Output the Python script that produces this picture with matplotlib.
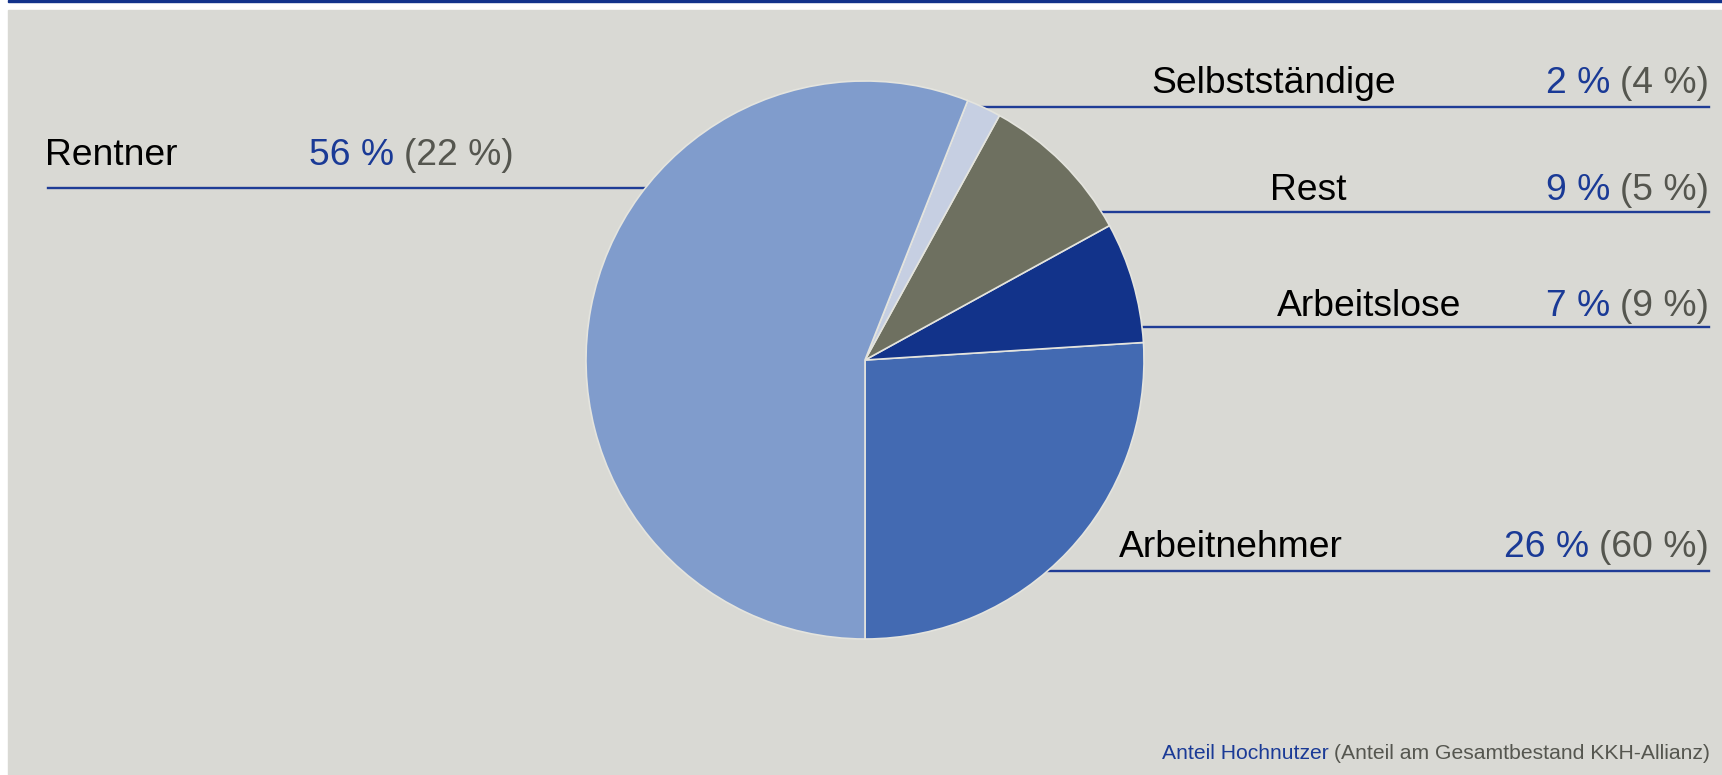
import matplotlib.pyplot as plt
from matplotlib.patches import Rectangle

# ========================
# DATA
# ========================
groups = ["Arbeitnehmer", "Arbeitslose", "Rest", "Selbstständige", "Rentner"]
share_high_users = [26, 7, 9, 2, 56]      # Anteil Hochnutzer
share_total = [60, 9, 5, 4, 22]           # Anteil am Gesamtbestand

# ========================
# STYLE
# ========================
BG_GRAY = "#D9D9D4"
DARK_BLUE = "#12328A"
LINE_BLUE = "#1F3C96"
TEXT_BLUE = "#1A3A96"
TEXT_GRAY = "#55564F"
slice_colors = ["#436AB2", "#12338A", "#6E7060", "#C6CFE2", "#809CCC"]

plt.rcParams['font.family'] = ['Liberation Sans', 'DejaVu Sans']

W, H = 1722, 775
fig = plt.figure(figsize=(W / 100, H / 100), dpi=100)
ax = fig.add_axes([0, 0, 1, 1])

# panel + top stripe (pixel coordinates, y up)
ax.add_patch(Rectangle((8, 0), W - 8, H - 10, color=BG_GRAY, zorder=0))
ax.add_patch(Rectangle((8, H - 2), W - 8, 2, color=DARK_BLUE, zorder=0))

# ========================
# PIE
# ========================
ax.pie(share_high_users, colors=slice_colors, startangle=-90,
       counterclock=True, center=(865, H - 360), radius=279,
       wedgeprops=dict(edgecolor="#E4E4DE", linewidth=1.2, zorder=3))

ax.set_xlim(0, W)
ax.set_ylim(0, H)
ax.set_aspect('equal')
ax.axis('off')

# ========================
# LABELS
# ========================
LABEL_SIZE = 26.8
RIGHT_EDGE = 1709

# name x, baseline y (from top), underline y, underline start x
right_labels = {
    "Selbstständige": (1151, 93, 107, 963),
    "Rest": (1270, 200, 212, 1100),
    "Arbeitslose": (1277, 316, 327, 1135),
    "Arbeitnehmer": (1119, 557, 571, 1040),
}

for name, (x, base, uy, x0) in right_labels.items():
    i = groups.index(name)
    yb = H - base
    ax.text(x, yb, name, fontsize=LABEL_SIZE, color="black", va='baseline', ha='left')
    gray = ax.text(RIGHT_EDGE, yb, f"({share_total[i]} %)", fontsize=LABEL_SIZE,
                   color=TEXT_GRAY, va='baseline', ha='right')
    ax.annotate(f"{share_high_users[i]} %", xy=(0, yb), xycoords=(gray, 'data'),
                xytext=(-7, 0), textcoords='offset points',
                fontsize=LABEL_SIZE, color=TEXT_BLUE, va='baseline', ha='right')
    ax.plot([x0, RIGHT_EDGE], [H - uy, H - uy], color=LINE_BLUE, lw=1.7, zorder=1)

# Rentner on the left side
i = groups.index("Rentner")
yb = H - 165
ax.text(45, yb, "Rentner", fontsize=LABEL_SIZE, color="black", va='baseline', ha='left')
blue = ax.text(309, yb, f"{share_high_users[i]} %", fontsize=LABEL_SIZE,
               color=TEXT_BLUE, va='baseline', ha='left')
ax.annotate(f"({share_total[i]} %)", xy=(1, yb), xycoords=(blue, 'data'),
            xytext=(7, 0), textcoords='offset points',
            fontsize=LABEL_SIZE, color=TEXT_GRAY, va='baseline', ha='left')
ax.plot([48, 660], [H - 188, H - 188], color=LINE_BLUE, lw=1.7, zorder=1)

# ========================
# FOOTNOTE
# ========================
foot_y = H - 759
note = ax.text(1710, foot_y, "(Anteil am Gesamtbestand KKH-Allianz)", fontsize=15.2,
               color=TEXT_GRAY, va='baseline', ha='right')
ax.annotate("Anteil Hochnutzer", xy=(0, foot_y), xycoords=(note, 'data'),
            xytext=(-4, 0), textcoords='offset points',
            fontsize=15.2, color=TEXT_BLUE, va='baseline', ha='right')

plt.savefig("out.png", dpi=100, facecolor="white")
plt.close()
